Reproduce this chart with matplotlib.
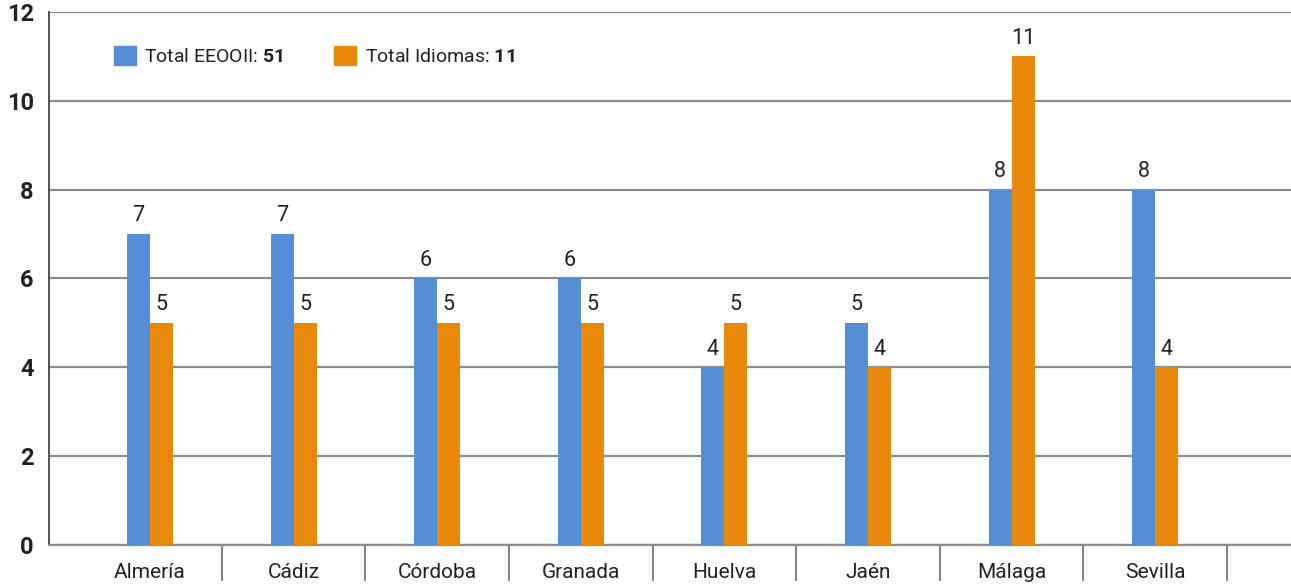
import matplotlib.pyplot as plt
from matplotlib.patches import Patch

plt.rcParams['font.family'] = ['Roboto', 'DejaVu Sans']
plt.rcParams['mathtext.fontset'] = 'custom'
plt.rcParams['mathtext.bf'] = 'Roboto:bold'
plt.rcParams['mathtext.rm'] = 'Roboto'

provincias = ["Almería", "Cádiz", "Córdoba", "Granada", "Huelva", "Jaén", "Málaga", "Sevilla"]
eeooii = [7, 7, 6, 6, 4, 5, 8, 8]
idiomas = [5, 5, 5, 5, 5, 4, 11, 4]
total_eeooii = 51
total_idiomas = 11

c_blue = '#558ED5'
c_orange = '#E8890B'
txt = '#222222'

fig = plt.figure(figsize=(12.91, 5.86), dpi=100)
ax = fig.add_axes([0.038, 0.07, 0.962, 0.9095])

w = 0.16
x = list(range(len(provincias)))
b1 = ax.bar([i - w / 2 for i in x], eeooii, w, color=c_blue, zorder=3)
b2 = ax.bar([i + w / 2 for i in x], idiomas, w, color=c_orange, zorder=3)
for bars, vals in ((b1, eeooii), (b2, idiomas)):
    for b, v in zip(bars, vals):
        ax.annotate(str(v), (b.get_x() + b.get_width() / 2, v), xytext=(0, 5.5),
                    textcoords='offset points', ha='center', va='bottom',
                    fontsize=15.5, color=txt)

ax.set_ylim(0, 12)
ax.set_xlim(-0.703, 7.946)
ax.set_yticks(range(0, 13, 2))
ax.yaxis.grid(True, color='#8c8c8c', linewidth=1.6, zorder=0)
ax.tick_params(axis='y', length=0, pad=11, labelsize=17, labelcolor=txt)
for lab in ax.get_yticklabels():
    lab.set_fontweight('bold')

ax.set_xticks(x)
ax.set_xticklabels(provincias, fontsize=15, color=txt)
ax.set_xticks([i + 0.5 for i in x], minor=True)
ax.tick_params(axis='x', which='major', length=0, pad=13)
ax.tick_params(axis='x', which='minor', length=26, width=1.3, color='#777777')

for s in ['top', 'right']:
    ax.spines[s].set_visible(False)
ax.spines['left'].set_color('#444444')
ax.spines['left'].set_linewidth(1.3)
ax.spines['bottom'].set_color('#8c8c8c')
ax.spines['bottom'].set_linewidth(1.6)

handles = [Patch(color=c_blue), Patch(color=c_orange)]
labels = [r"Total EEOOII: $\mathbf{%d}$" % total_eeooii,
          r"Total Idiomas: $\mathbf{%d}$" % total_idiomas]
leg = ax.legend(handles, labels, loc='center left', bbox_to_anchor=(0.052, 0.917), ncol=2,
                frameon=False, fontsize=14, handlelength=1.13, handleheight=1.13,
                handletextpad=0.45, columnspacing=2.6, borderpad=0, borderaxespad=0)
for t in leg.get_texts():
    t.set_color(txt)

fig.savefig('out.png', dpi=100)
